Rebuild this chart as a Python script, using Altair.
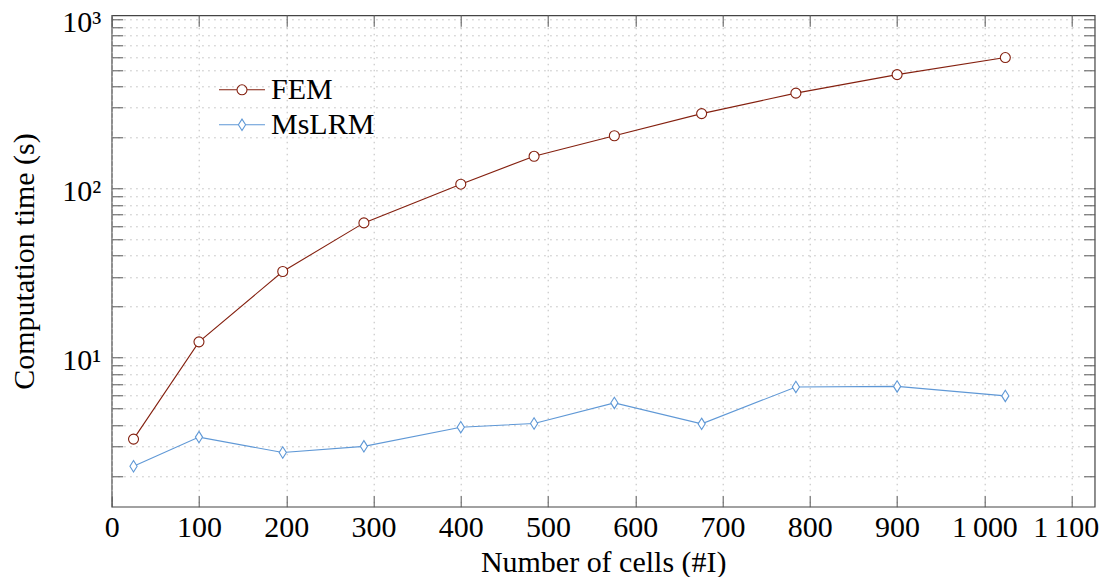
import altair as alt
import pandas as pd

# ---------------- data ----------------
cells = [25, 100, 196, 289, 400, 484, 576, 676, 784, 900, 1024]
fem_time = [3.30, 12.4, 32.3, 62.6, 106.0, 155.0, 205.0, 277.0, 366.0, 471.0, 594.0]
mslrm_time = [2.28, 3.39, 2.75, 2.99, 3.88, 4.08, 5.40, 4.06, 6.71, 6.76, 5.94]

series_names = ["FEM", "MsLRM"]
series_colors = ["#84200f", "#5f98d6"]

x_ticks = [0, 100, 200, 300, 400, 500, 600, 700, 800, 900, 1000, 1100]
x_last_tick = [1100]
y_major = [10, 100, 1000]
y_minor = [2, 3, 4, 5, 6, 7, 8, 9,
           20, 30, 40, 50, 60, 70, 80, 90,
           200, 300, 400, 500, 600, 700, 800, 900]
y_all = sorted(y_major + y_minor)

x_domain = [0, 1126.4]
y_domain = [1.315, 1056]

# ---------------- layout ----------------
W = 983
H = 491.4
FONT = "Liberation Serif"
FS = 30
TICK_COLOR = "#555555"
GRID_COLOR = "#bdbdbd"

# marker paths (unit coordinates)
DIAMOND = "M0,-1.14 L0.72,0 L0,1.14 L-0.72,0 Z"
LEG_FEM = ("M-1.533,0 L-0.333,0 M0.333,0 L1.533,0 "
           "M-0.333,0 A0.333,0.333 0 1,0 0.333,0 A0.333,0.333 0 1,0 -0.333,0 Z")
LEG_MS = ("M-1.533,0 L-0.24,0 M0.24,0 L1.533,0 "
          "M0,-0.38 L0.24,0 L0,0.38 L-0.24,0 Z")

df = pd.DataFrame({
    "cells": cells + cells,
    "time": fem_time + mslrm_time,
    "series": [series_names[0]] * len(cells) + [series_names[1]] * len(cells),
})

xs = alt.Scale(domain=x_domain, nice=False, zero=False)
ys = alt.Scale(type="log", domain=y_domain, nice=False)
cs = alt.Scale(domain=series_names, range=series_colors)

y_label_expr = ("datum.value == 10 ? '10\u00b9' : datum.value == 100 ? '10\u00b2' : "
                "datum.value == 1000 ? '10\u00b3' : ''")
x_label_expr = ("datum.value >= 1100 ? '' : "
                "replace(format(datum.value, ','), ',', '\u2009')")
x_last_expr = "replace(format(datum.value, ','), ',', '\u2009')"

# layer 1: lines + labelled axes + grid
lines = alt.Chart(df).mark_line(strokeWidth=1.1).encode(
    x=alt.X("cells:Q", scale=xs, axis=alt.Axis(
        orient="bottom", values=x_ticks, labelExpr=x_label_expr,
        ticks=False, tickSize=0, domain=False, grid=True,
        gridDash=[1.5, 4.5], gridColor=GRID_COLOR, gridWidth=1,
        labelFont=FONT, labelFontSize=FS, labelColor="black", labelPadding=6,
        labelFlush=False, labelOverlap=False,
        title="Number of cells (#I)", titleFont=FONT, titleFontSize=FS,
        titleFontWeight="normal", titleColor="black",
        titleBaseline="alphabetic", titleY=64.5)),
    y=alt.Y("time:Q", scale=ys, axis=alt.Axis(
        orient="left", values=y_all, labelExpr=y_label_expr,
        ticks=False, tickSize=0, domain=False, grid=True,
        gridDash=[1.5, 4.5], gridColor=GRID_COLOR, gridWidth=1,
        labelFont=FONT, labelFontSize=FS, labelColor="black", labelPadding=11,
        labelBaseline="alphabetic", labelOffset=12,
        labelFlush=False, labelOverlap=False,
        title="Computation time (s)", titleFont=FONT, titleFontSize=FS,
        titleFontWeight="normal", titleColor="black",
        titleAngle=270, titleBaseline="bottom", titleX=-72)),
    color=alt.Color("series:N", scale=cs, legend=None),
    detail="series:N",
)

# layer 2: markers + inner ticks on bottom and left edges
points = alt.Chart(df).mark_point(filled=False, size=100, strokeWidth=1.1, opacity=1).encode(
    x=alt.X("cells:Q", scale=xs, axis=alt.Axis(
        orient="top", offset=-H, values=x_ticks, labels=False, domain=False,
        grid=False, ticks=True, tickSize=11, tickColor=TICK_COLOR, tickWidth=1, title=None)),
    y=alt.Y("time:Q", scale=ys, axis=alt.Axis(
        orient="right", offset=-W, values=y_all, labels=False, domain=False,
        grid=False, ticks=True, tickSize=11, tickColor=TICK_COLOR, tickWidth=1, title=None)),
    color=alt.Color("series:N", scale=cs, legend=None),
    shape=alt.Shape("series:N", scale=alt.Scale(domain=series_names, range=["circle", DIAMOND]),
                    legend=None),
    fill=alt.value("white"),
)

# layer 3: no visible marks; inner ticks on top and right edges + legend
legend = alt.Legend(
    orient="none", legendX=114.3, legendY=58.5, title=None,
    labelFont=FONT, labelFontSize=FS, labelColor="black",
    symbolSize=900, labelOffset=13, rowPadding=4, padding=0,
    symbolStrokeWidth=1.1, symbolFillColor="white", symbolOpacity=1,
)
guide = alt.Chart(df).mark_point(filled=False, size=900, strokeWidth=1.1).encode(
    x=alt.X("cells:Q", scale=xs, axis=alt.Axis(
        orient="bottom", offset=-H, values=x_ticks, labels=False, domain=False,
        grid=False, ticks=True, tickSize=11, tickColor=TICK_COLOR, tickWidth=1, title=None)),
    y=alt.Y("time:Q", scale=ys, axis=alt.Axis(
        orient="left", offset=-W, values=y_all, labels=False, domain=False,
        grid=False, ticks=True, tickSize=11, tickColor=TICK_COLOR, tickWidth=1, title=None)),
    color=alt.Color("series:N", scale=alt.Scale(domain=series_names, range=series_colors),
                    legend=legend),
    shape=alt.Shape("series:N", scale=alt.Scale(domain=series_names, range=[LEG_FEM, LEG_MS]),
                    legend=legend),
).transform_filter("false")

# layer 4: no visible marks; label of the last x tick, nudged to stay inside the page
last_label = alt.Chart(df).mark_point(opacity=0).encode(
    x=alt.X("cells:Q", scale=xs, axis=alt.Axis(
        orient="bottom", values=x_last_tick, labelExpr=x_last_expr,
        ticks=False, tickSize=0, domain=False, grid=False,
        labelFont=FONT, labelFontSize=FS, labelColor="black", labelPadding=6,
        labelFlush=False, labelOverlap=False, labelOffset=-6, title=None)),
    y=alt.Y("time:Q", scale=ys, axis=None),
).transform_filter("false")

chart = alt.layer(lines, guide, points, last_label).resolve_axis(
    x="independent", y="independent"
).resolve_scale(shape="independent", color="independent").properties(
    width=W, height=H,
    autosize=alt.AutoSizeParams(type="none"),
    padding={"left": 103.7, "top": 7.3, "right": 4, "bottom": 70},
).configure_view(
    stroke="#444444", strokeWidth=1.2
)

chart.save("out.html", embed_options={"renderer": "svg", "actions": False})
